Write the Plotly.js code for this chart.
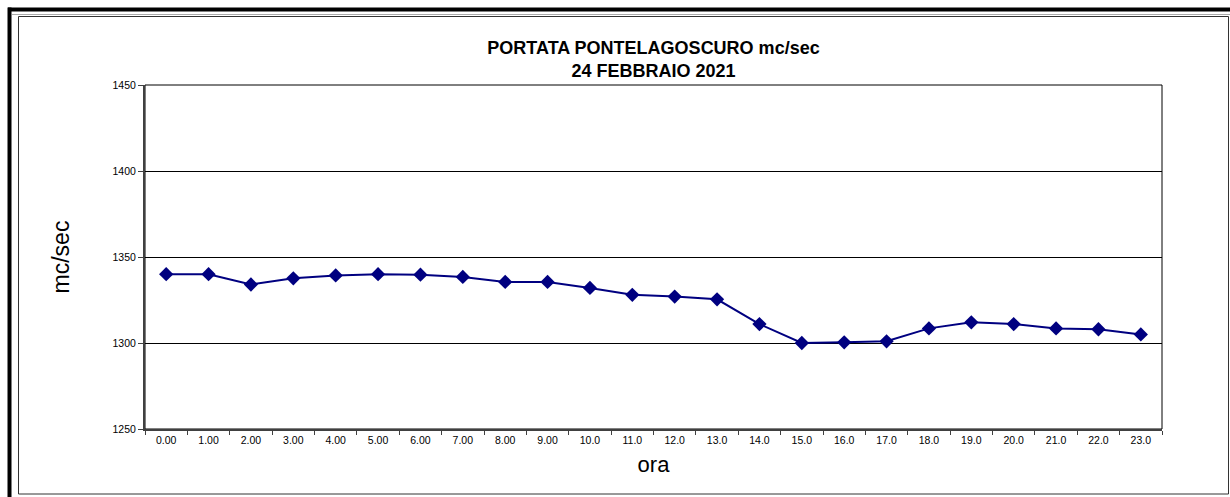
<!DOCTYPE html>
<html>
<head>
<meta charset="utf-8">
<script src="https://cdn.plot.ly/plotly-3.0.1.min.js"></script>
<style>
html,body{margin:0;padding:0;background:#fff;}
#chart{width:1230px;height:497px;}
</style>
</head>
<body>
<div id="chart"></div>
<script>
// Data
const hours = ["0.00","1.00","2.00","3.00","4.00","5.00","6.00","7.00","8.00","9.00","10.0","11.0","12.0","13.0","14.0","15.0","16.0","17.0","18.0","19.0","20.0","21.0","22.0","23.0"];
const portata = [1340,1340,1334,1337.6,1339.3,1340,1339.7,1338.4,1335.5,1335.5,1332,1328,1327,1325.4,1311,1300,1300.4,1301,1308.5,1312,1311,1308.5,1308,1305];
const yTicks = [1250,1300,1350,1400,1450];
const titleLines = ["PORTATA PONTELAGOSCURO mc/sec","24 FEBBRAIO 2021"];

// Geometry (pixels)
const W = 1230, H = 497;
const mL = 145, mR = 68, mT = 85, mB = 68;
const pw = W - mL - mR, ph = H - mT - mB;
const px = x => (x - mL) / pw;
const py = y => (H - mB - y) / ph;

const trace = {
  x: hours,
  y: portata,
  type: 'scatter',
  mode: 'lines+markers',
  line: {color: '#000080', width: 2},
  marker: {symbol: 'diamond', size: 11, color: '#000080'},
  hoverinfo: 'x+y'
};

const shapes = [
  {type:'rect', xref:'paper', yref:'paper', x0:0, x1:1, y0:0, y1:1, line:{color:'#000', width:1}, layer:'below'},
  {type:'rect', xref:'paper', yref:'paper', x0:px(18.5), x1:px(1228.5), y0:py(16.5), y1:py(494), line:{color:'#333', width:1}},
  {type:'line', xref:'paper', yref:'paper', x0:px(12), x1:px(1230), y0:py(14.5), y1:py(14.5), line:{color:'#aaa', width:1}},
  {type:'line', xref:'paper', yref:'paper', x0:px(8), x1:px(1231), y0:py(9.5), y1:py(9.5), line:{color:'#000', width:4}},
  {type:'line', xref:'paper', yref:'paper', x0:px(9.5), x1:px(9.5), y0:py(7.5), y1:py(498), line:{color:'#000', width:4}}
];

const layout = {
  width: W, height: H,
  margin: {l: mL, r: mR, t: mT, b: mB, pad: 0},
  paper_bgcolor: '#fff',
  plot_bgcolor: '#fff',
  showlegend: false,
  font: {family: 'Liberation Sans, Arial, sans-serif', color: '#000'},
  title: {
    text: '<b>' + titleLines[0] + '</b><br><b>' + titleLines[1] + '</b>',
    font: {size: 18, family: 'Liberation Sans, Arial, sans-serif', color: '#000'},
    x: 0.5, xref: 'paper', xanchor: 'center',
    y: 1 - 54 / H, yref: 'container', yanchor: 'middle'
  },
  xaxis: {
    type: 'category',
    range: [-0.5, hours.length - 0.5],
    showgrid: false,
    zeroline: false,
    showline: true, linecolor: '#404040', linewidth: 2,
    ticks: 'outside', tickson: 'boundaries', ticklen: 4, tickcolor: '#404040', tickwidth: 1,
    tickfont: {size: 10.5, color: '#000'},
    tickangle: 0,
    title: {text: 'ora', font: {size: 22, color: '#000'}, standoff: 12},
    fixedrange: true
  },
  yaxis: {
    range: [1250, 1450],
    tickvals: yTicks,
    ticktext: yTicks.map(String),
    showgrid: true, gridcolor: '#000', gridwidth: 1,
    zeroline: false,
    showline: true, linecolor: '#404040', linewidth: 2,
    ticks: 'outside', ticklen: 5, tickcolor: '#404040', tickwidth: 1,
    tickfont: {size: 10.5, color: '#000'},
    title: {text: 'mc/sec', font: {size: 23, color: '#000'}, standoff: 36},
    fixedrange: true
  },
  shapes: shapes
};

Plotly.newPlot('chart', [trace], layout, {displayModeBar: false, staticPlot: true});
</script>
</body>
</html>
